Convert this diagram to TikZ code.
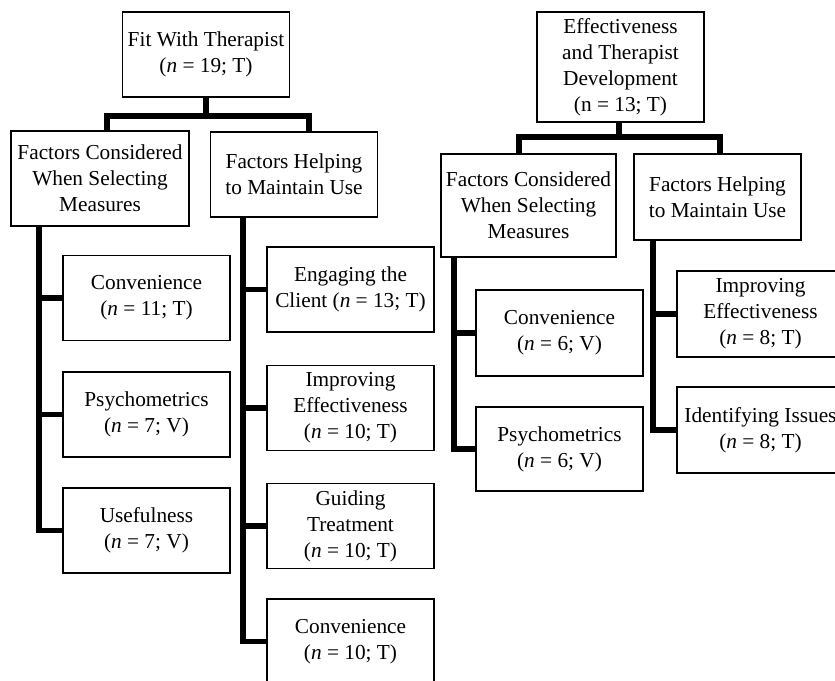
\documentclass[tikz,border=0pt]{standalone}
\usepackage{fontspec}
\setmainfont{Liberation Serif}
\begin{document}
\begin{tikzpicture}[x=1pt,y=-1pt,
  box/.style={draw=black, line width=1.7pt, inner sep=0pt, align=center,
    minimum width=167pt, minimum height=85pt,
    font=\fontsize{21.3pt}{26pt}\selectfont},
  conn/.style={draw=black, line width=5.6pt, line join=miter}]
\useasboundingbox (0,0) rectangle (835,680);
\clip (0,0) rectangle (835,680);
\fill[white] (0,0) rectangle (835,680);

% ---------- left tree ----------
\node[box] (A) at (206,54.5) {Fit With Therapist\\(\textit{n} = 19; T)};
\node[box, minimum width=178pt, minimum height=95pt] (B1) at (100,178.5) {Factors Considered\\When Selecting\\Measures};
\node[box] (B2) at (294,174.5) {Factors Helping\\to Maintain Use};
\node[box] (C1) at (146.5,298) {Convenience\\(\textit{n} = 11; T)};
\node[box] (C2) at (146.5,414.5) {Psychometrics\\(\textit{n} = 7; V)};
\node[box] (C3) at (146.5,530.5) {Usefulness\\(\textit{n} = 7; V)};
\node[box] (D1) at (350.5,289.5) {Engaging the\\Client (\textit{n} = 13; T)};
\node[box] (D2) at (350.5,408) {Improving\\Effectiveness\\(\textit{n} = 10; T)};
\node[box] (D3) at (350.5,526) {Guiding\\Treatment\\(\textit{n} = 10; T)};
\node[box] (D4) at (350.5,641.5) {Convenience\\(\textit{n} = 10; T)};

\coordinate (jA) at (206,116);
\coordinate (t1) at (39,0);
\coordinate (t2) at (243,0);
\draw[conn] (A.south) -- (jA) -| ([xshift=7pt]B1.north);
\draw[conn] (jA) -| ([xshift=15pt]B2.north);
\draw[conn] (t1 |- B1.south) |- (C3.west);
\draw[conn] (C1.west) -- (C1.west -| t1);
\draw[conn] (C2.west) -- (C2.west -| t1);
\draw[conn] (t2 |- B2.south) |- (D4.west);
\draw[conn] (D1.west) -- (D1.west -| t2);
\draw[conn] (D2.west) -- (D2.west -| t2);
\draw[conn] (D3.west) -- (D3.west -| t2);

% ---------- right tree ----------
\node[box, minimum height=110pt] (E) at (620.5,67) {Effectiveness\\and Therapist\\Development\\(n = 13; T)};
\node[box, minimum width=175pt, minimum height=103pt] (F1) at (528.5,205.5) {Factors Considered\\When Selecting\\Measures};
\node[box, minimum height=86pt] (F2) at (717.5,197) {Factors Helping\\to Maintain Use};
\node[box, minimum height=86pt] (G1) at (559.5,333) {Convenience\\(\textit{n} = 6; V)};
\node[box, minimum height=84pt] (G2) at (559.5,449) {Psychometrics\\(\textit{n} = 6; V)};
\node[box, minimum height=86pt] (H1) at (760.5,314) {Improving\\Effectiveness\\(\textit{n} = 8; T)};
\node[box, minimum height=86pt] (H2) at (760.5,430) {Identifying Issues\\(\textit{n} = 8; T)};

\coordinate (jE) at (619,137);
\coordinate (t3) at (454,0);
\coordinate (t4) at (653,0);
\draw[conn] (E.south -| jE) -- (jE) -| ([xshift=-9.5pt]F1.north);
\draw[conn] (jE) -| ([xshift=2.5pt]F2.north);
\draw[conn] (t3 |- F1.south) |- (G2.west);
\draw[conn] (G1.west) -- (G1.west -| t3);
\draw[conn] (t4 |- F2.south) |- (H2.west);
\draw[conn] (H1.west) -- (H1.west -| t4);
\end{tikzpicture}
\end{document}
